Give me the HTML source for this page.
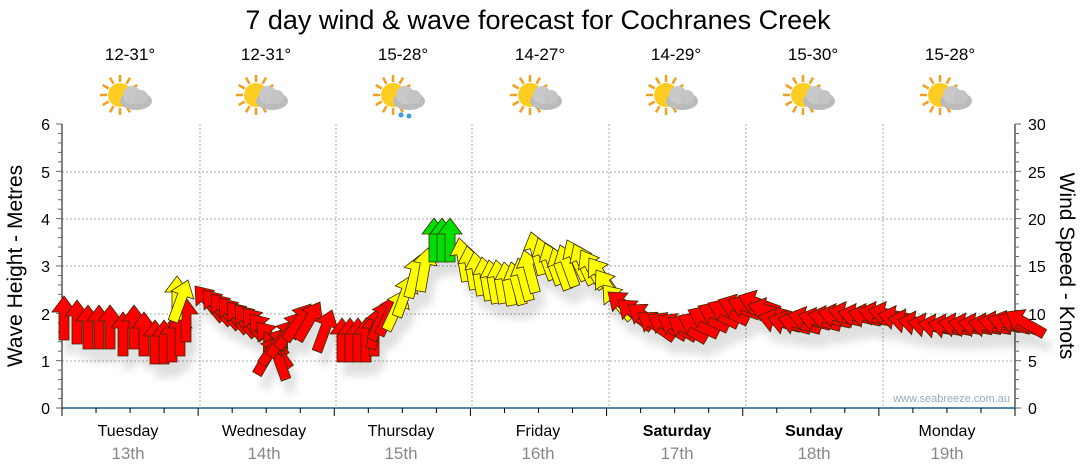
<!DOCTYPE html>
<html><head><meta charset="utf-8"><style>
html,body{margin:0;padding:0;background:#fff;}
svg{display:block;font-family:"Liberation Sans",sans-serif;}
</style></head><body>
<svg id="s" width="1080" height="475" viewBox="0 0 1080 475" xmlns="http://www.w3.org/2000/svg">
<defs><filter id="bl" x="-20%" y="-20%" width="140%" height="140%"><feGaussianBlur stdDeviation="4"/></filter></defs>
<text x="538" y="29" font-size="27" text-anchor="middle" fill="#000">7 day wind &amp; wave forecast for Cochranes Creek</text>
<g font-size="17" text-anchor="middle" fill="#000">
<text x="130" y="60">12-31°</text><text x="266" y="60">12-31°</text><text x="403" y="60">15-28°</text>
<text x="540" y="60">14-27°</text><text x="676" y="60">14-29°</text><text x="813" y="60">15-30°</text><text x="950" y="60">15-28°</text>
</g>
<g id="icons"></g>
<g stroke="#aaa" stroke-dasharray="2,2" stroke-width="1">
<line x1="62" y1="361" x2="1015" y2="361"/><line x1="62" y1="314" x2="1015" y2="314"/><line x1="62" y1="266" x2="1015" y2="266"/>
<line x1="62" y1="219" x2="1015" y2="219"/><line x1="62" y1="172" x2="1015" y2="172"/>
<line x1="200" y1="124" x2="200" y2="408"/><line x1="336" y1="124" x2="336" y2="408"/><line x1="472" y1="124" x2="472" y2="408"/>
<line x1="609" y1="124" x2="609" y2="408"/><line x1="746" y1="124" x2="746" y2="408"/><line x1="883" y1="124" x2="883" y2="408"/>
</g>
<line x1="62" y1="124" x2="62" y2="415" stroke="#000"/>
<line x1="1015" y1="124" x2="1015" y2="408" stroke="#000"/>
<line x1="62" y1="408" x2="1015" y2="408" stroke="#1f5a8a" stroke-width="1.5"/>
<g id="ticks" stroke="#666"></g>
<g font-size="16" fill="#000">
<text x="50" y="414" text-anchor="end">0</text><text x="50" y="367" text-anchor="end">1</text><text x="50" y="320" text-anchor="end">2</text>
<text x="50" y="272" text-anchor="end">3</text><text x="50" y="225" text-anchor="end">4</text><text x="50" y="178" text-anchor="end">5</text><text x="50" y="130" text-anchor="end">6</text>
<text x="1028" y="414">0</text><text x="1028" y="367">5</text><text x="1028" y="320">10</text><text x="1028" y="272">15</text>
<text x="1028" y="225">20</text><text x="1028" y="178">25</text><text x="1028" y="130">30</text>
</g>
<text transform="translate(22,266) rotate(-90)" font-size="21" text-anchor="middle">Wave Height - Metres</text>
<text transform="translate(1060,266) rotate(90)" font-size="21" text-anchor="middle">Wind Speed - Knots</text>
<g font-size="16" text-anchor="middle">
<text x="128" y="436">Tuesday</text><text x="264" y="436">Wednesday</text><text x="401" y="436">Thursday</text>
<text x="538" y="436">Friday</text><text x="677" y="436" font-weight="bold">Saturday</text><text x="814" y="436" font-weight="bold">Sunday</text><text x="947" y="436">Monday</text>
</g>
<g font-size="17" text-anchor="middle" fill="#888">
<text x="128" y="459">13th</text><text x="264" y="459">14th</text><text x="401" y="459">15th</text>
<text x="538" y="459">16th</text><text x="677" y="459">17th</text><text x="814" y="459">18th</text><text x="947" y="459">19th</text>
</g>
<text x="1010" y="402" font-size="11" fill="#9ab" text-anchor="end">www.seabreeze.com.au</text>
<g id="arr" stroke="#3a2a00" stroke-width="0.8" stroke-linejoin="miter"></g>
</svg>
<script>
var NS="http://www.w3.org/2000/svg";
function el(t,a,p){var e=document.createElementNS(NS,t);for(var k in a)e.setAttribute(k,a[k]);p.appendChild(e);return e;}
var tk=document.getElementById('ticks');
for(var i=0;i<=30;i++){var y=408-i*284/30;el('line',{x1:62,x2:i%5?58:56,y1:y,y2:y},tk);el('line',{x1:1015,x2:i%5?1019:1021,y1:y,y2:y},tk);}
for(var d=0;d<=28;d++){var x=62+d*953/28;el('line',{x1:x,x2:x,y1:408,y2:d%4?413:416,stroke:'#000'},tk);}
var ic=document.getElementById('icons');
[130,266,403,540,676,813,950].forEach(function(cx,i){
 var g=el('g',{transform:'translate('+(cx-10)+',95)'},ic);
 for(var a=0;a<12;a++){var r=a*Math.PI/6;el('line',{x1:Math.cos(r)*13,y1:Math.sin(r)*13,x2:Math.cos(r)*20,y2:Math.sin(r)*20,stroke:'#f0a020','stroke-width':2.5},g);}
 el('circle',{cx:0,cy:0,r:12,fill:'#ffcc22'},g);
 el('ellipse',{cx:16,cy:6,rx:16,ry:9,fill:'#bbb'},g);
 el('circle',{cx:12,cy:0,r:9,fill:'#c8c8c8'},g);
 el('circle',{cx:21,cy:2,r:7,fill:'#c4c4c4'},g);
 if(i==2){el('circle',{cx:8,cy:20,r:2.5,fill:'#3aa0e0'},g);el('circle',{cx:16,cy:21,r:2.5,fill:'#3aa0e0'},g);}
});
var R='#ff0000',Y='#ffff00',G='#00e000';
var D=[
[64,296,0,R],[77,300,0,R],[88,305,0,R],[99,305,0,R],[110,305,0,R],[123,312,0,R],[134,305,0,R],[144,312,0,R],[155,320,0,R],[164,320,0,R],[172,318,0,R],[180,312,0,R],[186,298,0,R],[177,276,0,Y],[188,280,20,Y],
[195,286,-40,R],[203,290,-40,R],[211,294,-40,R],[219,298,-40,R],[227,302,-40,R],[235,305,-40,R],[243,308,-40,R],[250,314,-40,R],[257,322,-40,R],[264,332,-35,R],[271,338,-20,R],
[279,336,30,R],[287,328,35,R],[295,320,35,R],[303,312,35,R],[311,304,35,R],[320,302,30,R],[332,310,20,R],[342,318,0,R],[350,318,0,R],[358,318,0,R],[366,318,0,R],[374,312,0,R],[382,306,15,R],[390,300,25,R],[398,295,25,R],[405,290,25,Y],[412,275,20,Y],[420,255,15,Y],[428,248,10,Y],
[434,218,0,G],[442,218,0,G],[450,218,0,G],
[459,238,-10,Y],[467,246,-10,Y],[474,252,-10,Y],[482,257,-10,Y],[489,260,-10,Y],[496,260,-10,Y],[504,262,-10,Y],[511,262,-15,Y],[518,258,-15,Y],[524,250,-15,Y],[531,232,-15,Y],[538,238,-20,Y],[545,243,-20,Y],[553,248,-20,Y],[560,245,-20,Y],[567,240,-25,Y],[574,244,-25,Y],[581,250,-30,Y],[589,258,-35,Y],[596,270,-35,Y],[603,285,-40,Y],
[608,292,-50,R],[618,300,-50,R],[628,305,-55,R],[638,313,-55,R],[648,315,-60,R],[658,316,-60,R],[668,318,-60,R],[678,316,-65,R],[688,310,-65,R],[698,306,-65,R],[708,303,-65,R],[718,300,-70,R],[728,300,-70,R],[738,296,-70,R],[748,305,-75,R],[758,316,-75,R],[768,318,-75,R],[778,318,-75,R],[788,314,-75,R],[798,315,-75,R],[808,314,-78,R],[818,312,-78,R],[828,310,-78,R],[838,312,-78,R],[848,312,-78,R],[858,310,-78,R],[868,310,-78,R],[878,314,-78,R],[888,318,-80,R],[898,320,-80,R],[908,322,-80,R],[918,323,-80,R],[928,323,-80,R],[938,322,-80,R],[948,322,-80,R],[958,322,-80,R],[968,322,-80,R],[978,320,-80,R],[988,318,-75,R],[998,316,-70,R],[1006,312,-60,R]
];
var ag=document.getElementById('arr');
var sh=el('g',{fill:'#000',opacity:0.12,stroke:'none',filter:'url(#bl)'},ag);
var shape="0,0 12,16 5,16 5,44 -5,44 -5,16 -12,16";
D.forEach(function(d){el('polygon',{points:shape,transform:'translate('+(d[0]+6)+','+(d[1]+14)+') rotate('+d[2]+')'},sh);});
D.forEach(function(d){el('polygon',{points:shape,fill:d[3],transform:'translate('+d[0]+','+d[1]+') rotate('+d[2]+')'},ag);});
</script>
</body></html>
